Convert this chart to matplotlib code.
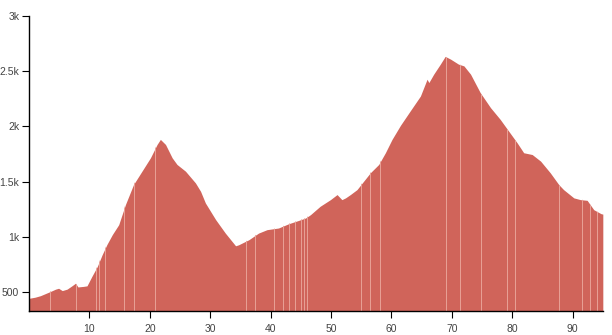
import matplotlib.pyplot as plt
from matplotlib.ticker import FixedLocator

# distance (km) and elevation (m)
dist = [0, 1.0, 1.9, 3.5, 4.4, 4.9, 5.5, 6.3, 7.1, 7.7, 8.1, 9.0, 9.6, 10.4, 11.3, 12.1,
        12.9, 13.8, 14.85, 15.96, 17.3, 18.7, 20.1, 21.2, 21.75, 22.6, 23.7, 24.5,
        25.9, 27.55, 28.4, 29.2, 30.9, 32.5, 34.2, 34.7, 36.4, 38.0, 39.4, 41.3,
        43.0, 44.65, 45.8, 46.6, 48.2, 49.9, 51.0, 51.8, 52.4, 53.2, 54.3, 55.4,
        56.5, 57.9, 59.0, 60.1, 61.5, 63.1, 64.8, 65.9, 66.2, 67.0, 68.1, 68.9,
        69.8, 71.1, 72.0, 73.1, 74.7, 76.4, 78.0, 79.2, 80.8, 81.9, 83.3, 84.7,
        86.3, 87.7, 88.5, 90.2, 91.3, 92.4, 93.5, 94.7, 95.0]
elev = [442, 452, 466, 503, 525, 533, 512, 525, 555, 579, 545, 550, 555, 640, 730, 836,
        930, 1020, 1109, 1291, 1473, 1594, 1715, 1836, 1882, 1836, 1715, 1655,
        1594, 1488, 1412, 1306, 1155, 1033, 918, 927, 973, 1033, 1064, 1079,
        1118, 1148, 1170, 1200, 1276, 1336, 1382, 1336, 1352, 1382, 1427, 1503,
        1579, 1655, 1761, 1882, 2010, 2139, 2275, 2427, 2397, 2473, 2564, 2634,
        2609, 2564, 2548, 2473, 2306, 2170, 2064, 1973, 1852, 1761, 1745, 1685,
        1579, 1473, 1427, 1352, 1336, 1330, 1245, 1209, 1205]

# thin light seams between the bar segments
seams = [3.5, 7.85, 11.1, 11.65, 12.5, 15.7, 17.3, 20.9, 35.9, 37.4, 40.5, 42.0,
         43.0, 44.1, 45.1, 45.6, 46.0, 55.0, 56.5, 58.1, 69.05, 71.3, 74.85, 79.2,
         80.5, 87.7, 91.6, 92.9, 94.1]

xticks = [10, 20, 30, 40, 50, 60, 70, 80, 90]
yticks = [500, 1000, 1500, 2000, 2500, 3000]
ylabels = ['500', '1k', '1.5k', '2k', '2.5k', '3k']

plt.rcParams['font.family'] = ['Liberation Sans', 'DejaVu Sans']

fig = plt.figure(figsize=(6.12, 3.35), dpi=100)
ax = fig.add_axes([0.0474, 0.0716, 0.9376, 0.8806])

area = ax.fill_between(dist, elev, 0, color='#d0645a', linewidth=0)
vl = ax.vlines(seams, 0, 3000, color='#e8a196', linewidth=0.7)
vl.set_clip_path(area.get_paths()[0], area.get_transform())

ax.set_xlim(0, 95)
ax.set_ylim(327, 3000)
ax.xaxis.set_major_locator(FixedLocator(xticks))
ax.set_yticks(yticks)
ax.set_yticklabels(ylabels)
ax.tick_params(axis='both', direction='out', length=5, width=0.8,
               labelsize=7.5, labelcolor='#444444', color='black', pad=2)
ax.tick_params(axis='x', pad=4)
for s in ['top', 'right']:
    ax.spines[s].set_visible(False)
for s in ['left', 'bottom']:
    ax.spines[s].set_color('black')
    ax.spines[s].set_linewidth(1)

fig.savefig('out.png', dpi=100)
